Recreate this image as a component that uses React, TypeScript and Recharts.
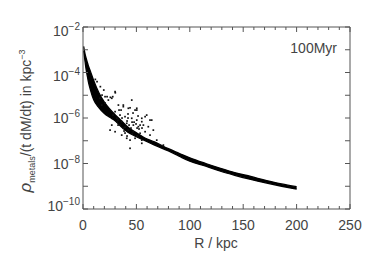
import React from "react";
import { ComposedChart, Area, Scatter, XAxis, YAxis } from "recharts";

// Radius in kpc along the dense band
const bandR = [0.6, 2, 3, 4, 5, 7, 10, 15, 20, 25, 30, 36, 42, 49, 58, 67, 80, 90, 100, 115, 128, 142, 157, 172, 186, 200];
// Upper edge of the dense band
const bandUpper = [1.41e-3, 6.31e-4, 4.17e-4, 2.82e-4, 2.0e-4, 1.12e-4, 4.47e-5, 1.26e-5, 5.01e-6, 2.51e-6, 1.41e-6, 7.59e-7, 3.98e-7, 2.4e-7, 1.32e-7, 8.91e-8, 4.47e-8, 2.82e-8, 1.78e-8, 1.0e-8, 6.31e-9, 3.98e-9, 2.69e-9, 1.78e-9, 1.26e-9, 9.55e-10];
// Lower edge of the dense band
const bandLower = [8.91e-4, 2.82e-4, 1.29e-4, 7.08e-5, 3.98e-5, 1.7e-5, 6.31e-6, 2.82e-6, 1.58e-6, 1.07e-6, 7.59e-7, 3.98e-7, 2.4e-7, 1.58e-7, 1.0e-7, 6.46e-8, 3.55e-8, 2.09e-8, 1.26e-8, 7.59e-9, 4.68e-9, 3.02e-9, 2.0e-9, 1.38e-9, 1.0e-9, 7.41e-10];

// Scattered particles (R in kpc, value)
const scatterR = [11.5, 13.1, 16.2, 19.4, 30.2, 22.5, 25.6, 17.8, 30.0, 20.6, 23.7, 26.9, 17.5, 33.1, 37.7, 42.4, 48.7, 30.0, 34.6, 39.3, 45.6, 50.3, 55.0, 31.6, 36.2, 40.9, 47.1, 51.8, 56.5, 26.9, 25.3, 30.0, 37.7, 42.4, 47.1, 53.4, 58.1, 40.9, 44.0, 48.7, 55.0, 36.2, 44.0, 55.0, 50.3, 58.1, 62.7, 53.4, 61.1, 65.8, 62.7, 69.0, 75.2, 55.0, 37.7, 44.0, 27.8, 15.9, 20.6, 32.8, 39.3, 45.9, 50.6, 42.1, 33.7, 28.1, 45.6, 50.3, 59.6, 64.3, 32.8, 36.5, 41.2, 43.1, 44.9, 47.8, 49.6, 52.4, 55.2, 39.3, 34.6, 31.8, 45.9, 50.6, 41.2, 38.4, 46.8, 51.5, 42.1, 35.6];
const scatterV = [5.0e-5, 3.98e-5, 2.4e-5, 1.7e-5, 1.29e-5, 8.71e-6, 8.13e-6, 1.02e-5, 1.45e-5, 8.7e-6, 6.17e-6, 7.41e-6, 3.72e-6, 3.72e-6, 3.16e-6, 2.69e-6, 2.24e-6, 1.91e-6, 1.35e-6, 1.15e-6, 9.77e-7, 8.13e-7, 9.77e-7, 9.8e-7, 6.92e-7, 5.89e-7, 4.9e-7, 4.17e-7, 4.9e-7, 4.9e-7, 2.95e-7, 2.51e-7, 3.55e-7, 2.95e-7, 2.51e-7, 2.14e-7, 2.51e-7, 1.29e-7, 1.07e-7, 1.29e-7, 1.07e-7, 1.78e-7, 4.68e-8, 7.76e-8, 2.24e-6, 1.15e-6, 8.13e-7, 4.9e-7, 4.17e-7, 2.95e-7, 1.78e-7, 1.07e-7, 6.46e-8, 6.92e-7, 3.72e-6, 2.82e-6, 8.7e-6, 7.41e-6, 4.57e-6, 4.9e-7, 2.19e-7, 6.61e-7, 3.63e-7, 1.0e-6, 2.24e-6, 1.35e-6, 6.17e-6, 2.69e-6, 1.35e-6, 8.13e-7, 8.13e-7, 1.0e-6, 7.41e-7, 4.9e-7, 3.63e-7, 6.61e-7, 5.5e-7, 3.31e-7, 3.63e-7, 3.98e-7, 4.9e-7, 6.61e-7, 2.0e-7, 1.62e-7, 1.62e-7, 2.69e-7, 1.66e-6, 1.23e-6, 1.51e-6, 2.24e-6];

const xTicks = [0, 10, 20, 30, 40, 50, 60, 70, 80, 90, 100, 110, 120, 130, 140, 150, 160, 170, 180, 190, 200, 210, 220, 230, 240, 250];
const yTicks = [1e-10, 1e-9, 1e-8, 1e-7, 1e-6, 1e-5, 1e-4, 1e-3, 1e-2];
const yLabelExp: Record<number, string> = { [-10]: "\u221210", [-8]: "\u22128", [-6]: "\u22126", [-4]: "\u22124", [-2]: "\u22122" };
const yLabelShift: Record<number, number> = { [-10]: -3, [-8]: 0, [-6]: 0, [-4]: 3, [-2]: 4 };

const bandData = bandR.map((r, i) => ({ r, band: [bandLower[i], bandUpper[i]] }));
const scatterData = scatterR.map((r, i) => ({ r, v: scatterV[i] }));

const AX = "#555";
const TXT = "#444";
const FONT = "'Liberation Sans', Arial, sans-serif";

const XTickBottom = (props: any) => {
  const { x, y, payload } = props;
  const v = payload.value;
  const major = v % 50 === 0;
  return (
    <g>
      <line x1={x} x2={x} y1={y} y2={y - (major ? 5 : 3)} stroke={AX} strokeWidth={1} />
      {major && (
        <text x={x} y={y + 21} textAnchor="middle" fontSize={14} fontFamily={FONT} fill={TXT}>
          {v}
        </text>
      )}
    </g>
  );
};

const XTickTop = (props: any) => {
  const { x, y, payload } = props;
  const major = payload.value % 50 === 0;
  return <line x1={x} x2={x} y1={y} y2={y + (major ? 5 : 3)} stroke={AX} strokeWidth={1} />;
};

const YTickLeft = (props: any) => {
  const { x, y, payload } = props;
  const e = Math.round(Math.log10(payload.value));
  const exp = yLabelExp[e];
  const sh = yLabelShift[e] || 0;
  return (
    <g>
      <line x1={x} x2={x + 5} y1={y} y2={y} stroke={AX} strokeWidth={1} />
      {exp && (
        <text x={x - 3} y={y + 5 + sh} textAnchor="end" fontFamily={FONT} fill={TXT} fontSize={14}>
          <tspan>10</tspan>
          <tspan fontSize={10} dy={-6}>{exp}</tspan>
        </text>
      )}
    </g>
  );
};

const YTickRight = (props: any) => {
  const { x, y } = props;
  return <line x1={x} x2={x - 5} y1={y} y2={y} stroke={AX} strokeWidth={1} />;
};

const Dot = (props: any) => {
  const { cx, cy } = props;
  if (cx == null || cy == null) return null;
  return <rect x={cx - 0.8} y={cy - 0.8} width={1.7} height={1.7} fill="#111" />;
};

export default function App() {
  return (
    <div style={{ position: "absolute", left: 0, top: 0, width: 374, height: 262, background: "#fff" }}>
      <ComposedChart width={374} height={262} data={bandData} margin={{ top: 0, right: 0, bottom: 0, left: 0 }}>
        <XAxis
          xAxisId="bottom"
          type="number"
          dataKey="r"
          domain={[0, 250]}
          allowDataOverflow
          ticks={xTicks}
          interval={0}
          tickSize={0}
          tickMargin={0}
          height={53}
          orientation="bottom"
          stroke={AX}
          tick={<XTickBottom />}
        />
        <XAxis
          xAxisId="top"
          type="number"
          dataKey="r"
          domain={[0, 250]}
          allowDataOverflow
          ticks={xTicks}
          interval={0}
          tickSize={0}
          tickMargin={0}
          height={27}
          orientation="top"
          stroke={AX}
          tick={<XTickTop />}
        />
        <YAxis
          yAxisId="left"
          type="number"
          scale="log"
          domain={[1e-10, 1e-2]}
          allowDataOverflow
          ticks={yTicks}
          interval={0}
          tickSize={0}
          tickMargin={0}
          width={83}
          orientation="left"
          stroke={AX}
          tick={<YTickLeft />}
        />
        <YAxis
          yAxisId="right"
          type="number"
          dataKey="v"
          scale="log"
          domain={[1e-10, 1e-2]}
          allowDataOverflow
          ticks={yTicks}
          interval={0}
          tickSize={0}
          tickMargin={0}
          width={24}
          orientation="right"
          stroke={AX}
          tick={<YTickRight />}
        />
        <Area
          xAxisId="bottom"
          yAxisId="left"
          type="monotone"
          dataKey="band"
          stroke="#000"
          strokeWidth={1.3}
          fill="#000"
          fillOpacity={1}
          isAnimationActive={false}
          dot={false}
          activeDot={false}
        />
        <Scatter
          xAxisId="top"
          yAxisId="right"
          data={scatterData}
          dataKey="v"
          shape={<Dot />}
          isAnimationActive={false}
        />
      </ComposedChart>
      <svg width={374} height={262} style={{ position: "absolute", left: 0, top: 0, pointerEvents: "none" }}>
        <text x={337} y={53} textAnchor="end" fontSize={14} fontFamily={FONT} fill={TXT}>
          100Myr
        </text>
        <text x={216} y={248} textAnchor="middle" fontSize={14} fontFamily={FONT} fill={TXT}>
          R / kpc
        </text>
        <text transform="rotate(-90)" x={-121} y={31} textAnchor="middle" fontSize={14} fontFamily={FONT} fill={TXT}>
          <tspan fontSize={17} fontStyle="italic">ρ</tspan>
          <tspan fontSize={9} dy={4}>metals</tspan>
          <tspan dy={-4}>/(t dM/dt) in kpc</tspan>
          <tspan fontSize={9} dy={-6}>−3</tspan>
        </text>
      </svg>
    </div>
  );
}
